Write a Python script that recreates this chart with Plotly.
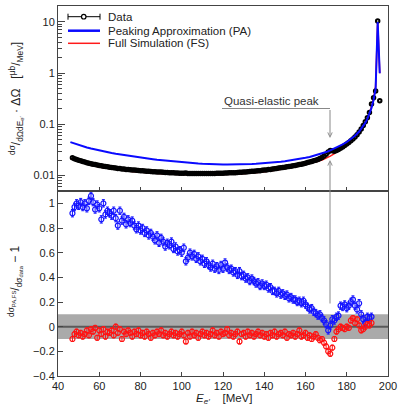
import plotly.graph_objects as go

# ---------------- data ----------------
E_data = list(range(47, 197))
data_xs = [
    0.0222, 0.0214, 0.0207, 0.0200, 0.0194, 0.0189, 0.0184, 0.0179, 0.0175, 0.0171,
    0.0167, 0.0164, 0.0161, 0.0158, 0.0155, 0.0153, 0.0150, 0.0148, 0.0146, 0.0144,
    0.0142, 0.0140, 0.0138, 0.0137, 0.0135, 0.0134, 0.0132, 0.0131, 0.0130, 0.0129,
    0.0128, 0.0127, 0.0126, 0.0125, 0.0124, 0.0123, 0.0122, 0.0121, 0.0120, 0.0119,
    0.0119, 0.0118, 0.0117, 0.0117, 0.0116, 0.0115, 0.0115, 0.0114, 0.0113, 0.0113,
    0.0112, 0.0112, 0.0111, 0.0111, 0.0111, 0.0112, 0.0110, 0.0110, 0.0110, 0.0110,
    0.0110, 0.0110, 0.0110, 0.0110, 0.0110, 0.0110, 0.0110, 0.0110, 0.0110, 0.0110,
    0.0111, 0.0111, 0.0111, 0.0111, 0.0112, 0.0112, 0.0113, 0.0113, 0.0114, 0.0114,
    0.0115, 0.0116, 0.0116, 0.0117, 0.0118, 0.0119, 0.0120, 0.0121, 0.0122, 0.0123,
    0.0124, 0.0125, 0.0127, 0.0128, 0.0129, 0.0131, 0.0132, 0.0134, 0.0136, 0.0138,
    0.0140, 0.0142, 0.0144, 0.0146, 0.0148, 0.0150, 0.0153, 0.0155, 0.0158, 0.0161,
    0.0164, 0.0167, 0.0171, 0.0175, 0.0180, 0.0184, 0.0189, 0.0194, 0.0200, 0.0207,
    0.0215, 0.0226, 0.0240, 0.0262, 0.0290, 0.0310, 0.0305, 0.0300, 0.0310, 0.0325,
    0.0340, 0.0360, 0.0385, 0.0415, 0.0445, 0.0480, 0.0520, 0.0570, 0.0630, 0.0710,
    0.0810, 0.0950, 0.113, 0.135, 0.170, 0.250, 0.330, 0.450, 10.4, 0.29,
]

E_curve = [46, 48, 50, 52, 54, 56, 58, 60, 62, 64,
           66, 68, 70, 72, 74, 76, 78, 80, 82, 84,
           86, 88, 90, 92, 94, 96, 98, 100, 102, 104,
           106, 108, 110, 112, 114, 116, 118, 120, 122, 124,
           126, 128, 130, 132, 134, 136, 138, 140, 142, 144,
           146, 148, 150, 152, 154, 156, 158, 160, 162, 164,
           166, 168, 170, 172, 174, 176, 178, 180, 182, 184,
           186, 188, 189, 190, 191, 192, 193, 194, 195, 196]
pa_xs = [
    0.0450, 0.0420, 0.0395, 0.0373, 0.0354, 0.0337, 0.0322, 0.0309, 0.0297, 0.0286,
    0.0276, 0.0267, 0.0259, 0.0251, 0.0244, 0.0237, 0.0231, 0.0225, 0.0219, 0.0214,
    0.0209, 0.0204, 0.0200, 0.0196, 0.0192, 0.0188, 0.0185, 0.0182, 0.0179, 0.0176,
    0.0174, 0.0172, 0.0170, 0.0168, 0.0167, 0.0166, 0.0165, 0.0164, 0.0164, 0.0164,
    0.0164, 0.0165, 0.0166, 0.0167, 0.0168, 0.0170, 0.0172, 0.0174, 0.0177, 0.0180,
    0.0183, 0.0187, 0.0191, 0.0196, 0.0201, 0.0207, 0.0214, 0.0222, 0.0231, 0.0242,
    0.0255, 0.0270, 0.0288, 0.0310, 0.0336, 0.0367, 0.0405, 0.0452, 0.0515, 0.0600,
    0.0725, 0.0920, 0.107, 0.128, 0.160, 0.210, 0.300, 0.500, 10.0, 1.0,
]
fs_xs = [
    0.0215, 0.0201, 0.0188, 0.0177, 0.0168, 0.0160, 0.0153, 0.0148, 0.0143, 0.0139,
    0.0135, 0.0131, 0.0128, 0.0125, 0.0123, 0.0121, 0.0119, 0.0117, 0.0115, 0.0114,
    0.0112, 0.0111, 0.0110, 0.0108, 0.0107, 0.0106, 0.0105, 0.0104, 0.0104, 0.0103,
    0.0103, 0.0103, 0.0103, 0.0103, 0.0103, 0.0103, 0.0104, 0.0104, 0.0105, 0.0106,
    0.0107, 0.0108, 0.0109, 0.0111, 0.0113, 0.0115, 0.0117, 0.0119, 0.0122, 0.0125,
    0.0129, 0.0133, 0.0137, 0.0142, 0.0147, 0.0152, 0.0158, 0.0165, 0.0172, 0.0180,
    0.0190, 0.0202, 0.0218, 0.0240, 0.0268, 0.0310, 0.0355, 0.0410, 0.0480, 0.0570,
    0.0700, 0.0900, 0.105, 0.128, 0.165, 0.220, 0.320, 0.550, 10.0, 1.0,
]

E_ratio = list(range(47, 193))
ratio_pa = [
    0.92, 0.97, 1.00, 0.98, 1.01, 0.97, 1.00, 0.96, 1.02, 1.06,
    1.01, 0.95, 0.99, 0.96, 0.87, 1.00, 0.91, 0.94, 0.92, 0.90,
    0.94, 0.88, 0.82, 0.94, 0.86, 0.89, 0.83, 0.87, 0.84, 0.86,
    0.82, 0.79, 0.82, 0.78, 0.80, 0.76, 0.78, 0.74, 0.76, 0.73,
    0.70, 0.74, 0.68, 0.72, 0.69, 0.65, 0.68, 0.66, 0.69, 0.63,
    0.65, 0.61, 0.62, 0.60, 0.64, 0.53, 0.56, 0.60, 0.57, 0.59,
    0.55, 0.57, 0.53, 0.55, 0.51, 0.53, 0.50, 0.48, 0.51, 0.47,
    0.49, 0.46, 0.50, 0.47, 0.52, 0.48, 0.46, 0.47, 0.44, 0.45,
    0.42, 0.45, 0.41, 0.42, 0.39, 0.40, 0.37, 0.39, 0.37, 0.35,
    0.36, 0.33, 0.35, 0.33, 0.34, 0.31, 0.32, 0.29, 0.29, 0.27,
    0.29, 0.26, 0.27, 0.25, 0.26, 0.23, 0.24, 0.22, 0.22, 0.20,
    0.21, 0.19, 0.21, 0.18, 0.16, 0.14, 0.15, 0.12, 0.11, 0.09,
    0.10, 0.07, 0.05, 0.02, -0.03, 0.01, 0.06, 0.05, 0.08, 0.09,
    0.17, 0.16, 0.18, 0.15, 0.17, 0.20, 0.22, 0.17, 0.14, 0.19,
    0.10, 0.06, 0.03, 0.08, 0.07, 0.08,
]
ratio_fs = [
    -0.10, -0.06, -0.04, -0.07, -0.05, -0.08, -0.06, -0.03, -0.07, -0.02,
    -0.04, -0.01, -0.09, -0.03, -0.06, -0.02, -0.08, -0.04, -0.05, -0.03,
    -0.07, 0.00, -0.05, -0.02, -0.10, -0.04, -0.06, -0.03, -0.05, -0.08,
    -0.04, -0.06, -0.03, -0.07, -0.05, -0.08, -0.04, -0.06, -0.09, -0.05,
    -0.07, -0.04, -0.06, -0.03, -0.07, -0.05, -0.08, -0.06, -0.04, -0.07,
    -0.05, -0.08, -0.06, -0.04, -0.07, -0.12, -0.05, -0.08, -0.04, -0.07,
    -0.05, -0.09, -0.06, -0.04, -0.07, -0.05, -0.08, -0.06, -0.03, -0.07,
    -0.05, -0.08, -0.04, -0.06, -0.05, -0.02, -0.07, -0.05, -0.08, -0.06,
    -0.04, -0.12, -0.06, -0.05, -0.08, -0.04, -0.07, -0.05, -0.08, -0.06,
    -0.04, -0.07, -0.05, -0.08, -0.06, -0.09, -0.05, -0.07, -0.04, -0.08,
    -0.06, -0.05, -0.07, -0.04, -0.09, -0.06, -0.07, -0.05, -0.08, -0.06,
    -0.03, -0.08, -0.07, -0.05, -0.09, -0.07, -0.10, -0.08, -0.06, -0.09,
    -0.11, -0.10, -0.13, -0.16, -0.20, -0.22, -0.17, -0.10, -0.04, -0.02,
    0.00, -0.01, -0.02, 0.00, -0.01, 0.05, 0.07, 0.03, 0.06, 0.01,
    -0.03, -0.02, 0.00, 0.02, 0.01, 0.03,
]
err_pa = 0.03
err_fs = 0.02
band_half = 0.1

x_ticks = [40, 60, 80, 100, 120, 140, 160, 180, 200]
y_top_ticks = [0.01, 0.1, 1, 10]
y_top_labels = ["0.01", "0.1", "1", "10"]
y_bot_ticks = [-0.4, -0.2, 0, 0.2, 0.4, 0.6, 0.8, 1.0]
y_bot_labels = ["\u22120.4", "\u22120.2", "0", "0.2", "0.4", "0.6", "0.8", "1"]

# ---------------- figure ----------------
W, H = 399, 412
L, R, T, B = 58, 11, 6, 36
PW, PH = W - L - R, H - T - B
FONT = "Liberation Sans, Arial, sans-serif"


def px(xp):
    return (xp - L) / PW


def py(yp):
    return 1 - (yp - T) / PH


fig = go.Figure()

# top panel
fig.add_trace(go.Scatter(x=E_curve, y=fs_xs, mode="lines", xaxis="x2", yaxis="y",
                         line=dict(color="#ff1a1a", width=1.6), showlegend=False))
fig.add_trace(go.Scatter(x=E_data, y=data_xs, mode="markers", xaxis="x2", yaxis="y",
                         marker=dict(symbol="circle-open", size=3.5, color="black",
                                     line=dict(width=2, color="black")),
                         showlegend=False))
fig.add_trace(go.Scatter(x=E_curve, y=pa_xs, mode="lines", xaxis="x2", yaxis="y",
                         line=dict(color="#0a0aff", width=2), showlegend=False))

# bottom panel
fig.add_trace(go.Scatter(x=E_ratio, y=ratio_pa, mode="markers", xaxis="x", yaxis="y2",
                         marker=dict(symbol="circle-open", size=5, color="#1414ff",
                                     line=dict(width=1.2, color="#1414ff")),
                         error_y=dict(type="constant", value=err_pa, color="#1414ff",
                                      thickness=1, width=1.5),
                         showlegend=False))
fig.add_trace(go.Scatter(x=E_ratio, y=ratio_fs, mode="markers", xaxis="x", yaxis="y2",
                         marker=dict(symbol="circle-open", size=5, color="#ff1414",
                                     line=dict(width=1.2, color="#ff1414")),
                         error_y=dict(type="constant", value=err_fs, color="#ff1414",
                                      thickness=1, width=1.5),
                         showlegend=False))

axis_common = dict(showline=True, linecolor="#444", linewidth=1, mirror=True,
                   showgrid=False, zeroline=False, ticks="inside", automargin=False,
                   tickcolor="#444", tickfont=dict(family=FONT, size=11, color="#222"))

minor_top = []
for k in [0.001, 0.01, 0.1, 1, 10]:
    for d in range(2, 10):
        v = d * k
        if 0.005 <= v <= 20:
            minor_top.append(v)

fig.update_layout(
    template="none",
    width=W, height=H,
    margin=dict(l=L, r=R, t=T, b=B, autoexpand=False),
    paper_bgcolor="white", plot_bgcolor="white",
    font=dict(family=FONT, size=11, color="#222"),
    showlegend=False,
    xaxis=dict(domain=[0, 1], anchor="y2", range=[40, 200],
               tickvals=x_ticks, ticklen=4, **axis_common),
    xaxis2=dict(domain=[0, 1], anchor="y", range=[40, 200], matches="x",
                showticklabels=False, tickvals=x_ticks, ticklen=4, **axis_common),
    yaxis=dict(domain=[0.5, 1], anchor="x2", type="log",
               range=[-2.301, 1.312], tickvals=y_top_ticks, ticktext=y_top_labels,
               ticklen=7,
               minor=dict(tickmode="array", tickvals=minor_top, ticks="inside",
                          ticklen=3.5, tickcolor="#444"),
               **axis_common),
    yaxis2=dict(domain=[0, 0.5], anchor="x", range=[-0.4, 1.1],
                tickvals=y_bot_ticks, ticktext=y_bot_labels, ticklen=5,
                **axis_common),
)

# grey band and zero line
fig.add_shape(type="rect", xref="x", yref="y2", x0=40, x1=200,
              y0=-band_half, y1=band_half, fillcolor="#aaaaaa",
              line=dict(width=0), layer="below")
fig.add_shape(type="line", xref="x", yref="y2", x0=40, x1=200, y0=0, y1=0,
              line=dict(color="#5a5a5a", width=2), layer="below")

# legend (manual)
lx0, lx1 = px(68), px(100)
rows = [16.7, 30.7, 43.3]
fig.add_shape(type="line", xref="paper", yref="paper", x0=lx0, x1=lx1,
              y0=py(rows[0]), y1=py(rows[0]), line=dict(color="black", width=1))
for xc in (68, 100):
    fig.add_shape(type="line", xref="paper", yref="paper", x0=px(xc), x1=px(xc),
                  y0=py(rows[0] - 3), y1=py(rows[0] + 3), line=dict(color="black", width=1))
fig.add_shape(type="circle", xref="paper", yref="paper", x0=px(81.5), x1=px(86),
              y0=py(rows[0] - 2.3), y1=py(rows[0] + 2.3), fillcolor="white",
              line=dict(color="black", width=1.2))
fig.add_shape(type="line", xref="paper", yref="paper", x0=lx0, x1=lx1,
              y0=py(rows[1]), y1=py(rows[1]), line=dict(color="#0a0aff", width=2.5))
fig.add_shape(type="line", xref="paper", yref="paper", x0=lx0, x1=lx1,
              y0=py(rows[2]), y1=py(rows[2]), line=dict(color="#ff1a1a", width=1.5))
for yr, name in zip(rows, ["Data", "Peaking Approximation (PA)", "Full Simulation (FS)"]):
    fig.add_annotation(xref="paper", yref="paper", x=px(106), y=py(yr), text=name,
                       showarrow=False, xanchor="left", yanchor="middle",
                       font=dict(family=FONT, size=11.5, color="#222"))

# quasi-elastic annotation
x_qe = px(330)
fig.add_annotation(xref="paper", yref="paper", x=px(222), y=py(101),
                   text="Quasi-elastic peak", showarrow=False, xanchor="left",
                   yanchor="middle", font=dict(family=FONT, size=11.5, color="#333"))
fig.add_shape(type="line", xref="paper", yref="paper", x0=px(222), x1=x_qe,
              y0=py(108.5), y1=py(108.5), line=dict(color="#888", width=1))
fig.add_annotation(xref="paper", yref="paper", x=x_qe, y=py(138), text="",
                   showarrow=True, ax=0, ay=-29.5, arrowhead=5, arrowsize=0.9,
                   arrowwidth=1, arrowcolor="#888")
fig.add_annotation(xref="paper", yref="paper", x=x_qe, y=py(160), text="",
                   showarrow=True, ax=0, ay=145, arrowhead=5, arrowsize=0.9,
                   arrowwidth=1, arrowcolor="#888")

# axis titles
fig.add_annotation(xref="paper", yref="paper", x=px(16), y=py(99),
                   xanchor="center", yanchor="middle",
                   text="<sup>dσ</sup>/<sub>dΩdE<sub>e′</sub></sub> · ΔΩ   [<sup>μb</sup>/<sub>MeV</sub>]",
                   textangle=-90, showarrow=False,
                   font=dict(family=FONT, size=12, color="#222"))
fig.add_annotation(xref="paper", yref="paper", x=px(15), y=py(281),
                   xanchor="center", yanchor="middle",
                   text="<sup>dσ<sub>PA,FS</sub></sup>/<sub>dσ<sub>data</sub></sub> − 1",
                   textangle=-90, showarrow=False,
                   font=dict(family=FONT, size=12, color="#222"))
fig.add_annotation(xref="paper", yref="paper", x=px(224), y=py(399),
                   xanchor="center", yanchor="middle",
                   text="<i>E<sub>e′</sub></i>    [MeV]", showarrow=False,
                   font=dict(family=FONT, size=11.5, color="#222"))

fig.write_html("out.html", config={"displayModeBar": False},
               post_script="document.body.style.margin='0';document.body.style.overflow='hidden';")
